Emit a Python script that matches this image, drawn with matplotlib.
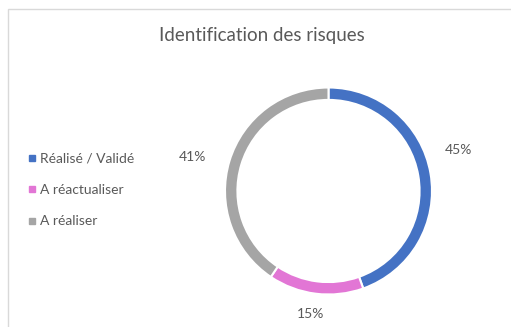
import matplotlib
matplotlib.use("Agg")
import matplotlib.pyplot as plt
from matplotlib.patches import Rectangle
from matplotlib.lines import Line2D

categories = ["Réalisé / Validé", "A réactualiser", "A réaliser"]
values = [45, 15, 41]
colors = ["#4472C4", "#E276D5", "#A5A5A5"]
title = "Identification des risques"

# label anchor points (in units of the ring radius)
label_pos = [(1.26, 0.40), (-0.17, -1.19), (-1.31, 0.33)]

W, H = 511, 327
fig = plt.figure(figsize=(W / 100, H / 100), dpi=100)
fig.patch.set_facecolor("white")

# chart area frame
fig.patches.append(Rectangle((8 / W, -0.1), 1.2, (H - 9) / H + 0.1,
                             transform=fig.transFigure, fill=False,
                             edgecolor="#D9D9D9", linewidth=1.0))

text_color = "#595959"
font = "Lato"

fig.text(262 / W, 1 - 35 / H, title, ha="center", va="center",
         fontsize=13.5, color=text_color, family=font)

# donut
cx, cy, r = 328.5, 191, 103.5
span = 3 * r
ax = fig.add_axes([(cx - span / 2) / W, (H - cy - span / 2) / H, span / W, span / H])
ax.pie(values, colors=colors, startangle=90, counterclock=False, radius=1,
       wedgeprops=dict(width=0.12, edgecolor="white", linewidth=1.5))
ax.set_xlim(-1.5, 1.5)
ax.set_ylim(-1.5, 1.5)
ax.set_aspect("equal")
ax.axis("off")
for v, (x, y) in zip(values, label_pos):
    ax.text(x, y, f"{v}%", ha="center", va="center", fontsize=10,
            color=text_color, family=font, clip_on=False)

# legend
handles = [Line2D([], [], marker="s", linestyle="none", markersize=5,
                  markerfacecolor=c, markeredgecolor=c) for c in colors]
fig.legend(handles, categories, loc="center left",
           bbox_to_anchor=(15 / W, 1 - 190 / H), frameon=False,
           labelcolor=text_color, prop=dict(family=font, size=10),
           handlelength=0.6, handletextpad=0.3, labelspacing=1.4)

fig.savefig("out.png", dpi=100, facecolor="white")
